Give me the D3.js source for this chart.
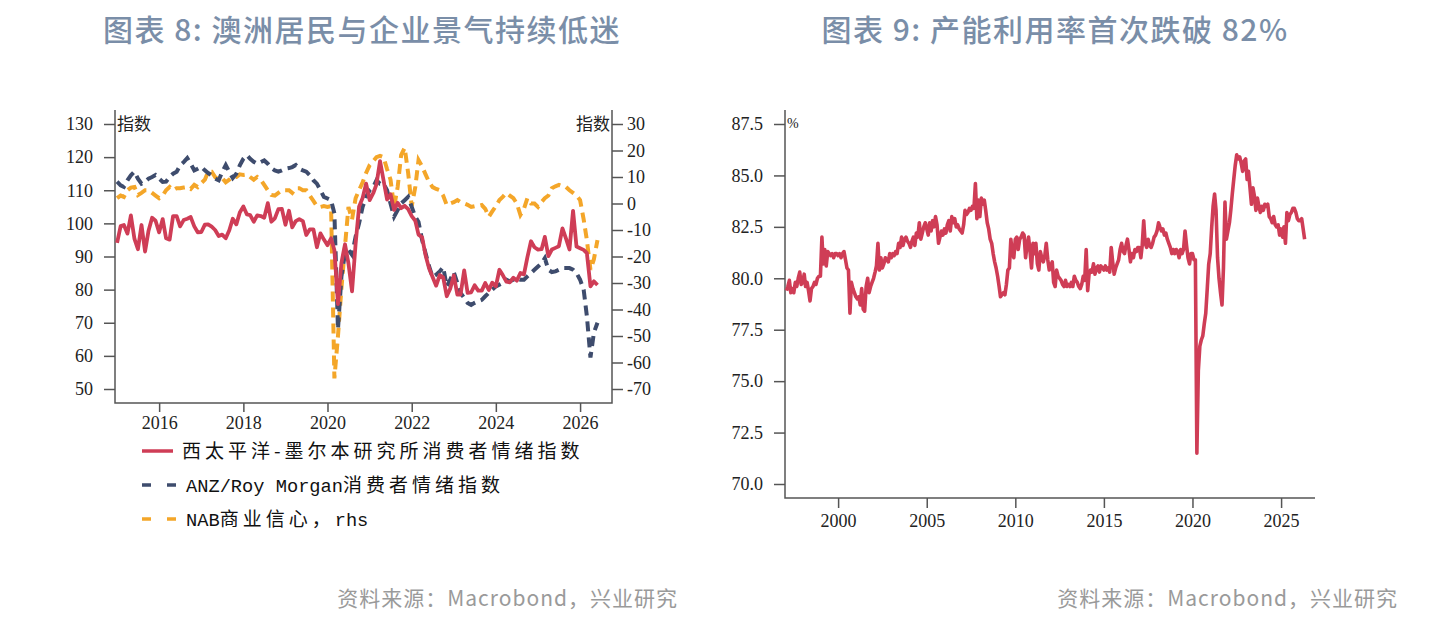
<!DOCTYPE html>
<html>
<head>
<meta charset="utf-8">
<script src="https://cdn.jsdelivr.net/npm/d3@7"></script>
<style>
  body { margin: 0; background: #fff; }
  svg { display: block; }
  .tick text { font-family: "Liberation Serif", serif; font-size: 18px; fill: #222; }
  .tick line { stroke: #555; stroke-width: 1.5; }
</style>
</head>
<body>
<svg id="chart" width="1440" height="630"></svg>
<script>
// ---- data: figure 8 (monthly, from Jan 2015) ----
var westpac = [
  94.1, 99.2, 99.5, 96.9, 102.4, 95.3, 92.2, 99.5, 91.5, 97.8, 101.7, 100.8,
  97.3, 101.3, 95.5, 95.1, 102.2, 102.2, 99.1, 101.0, 101.4, 101.9, 99.1, 97.3,
  97.4, 99.6, 99.7, 99.0, 98.0, 96.2, 96.6, 95.5, 97.9, 101.4, 99.7, 103.3,
  105.1, 102.7, 102.5, 100.5, 102.4, 102.2, 101.7, 106.1, 100.5, 101.5, 104.3, 104.4,
  99.6, 103.8, 98.8, 100.7, 101.3, 100.7, 96.5, 98.2, 98.2, 92.8, 97.0, 95.1,
  93.4, 95.5, 91.9, 75.6, 88.1, 93.7, 87.9, 79.5, 93.8, 105.0, 107.7, 112.0,
  107.0, 109.1, 111.8, 118.8, 113.1, 107.2, 108.8, 104.1, 106.2, 104.6, 105.3, 104.3,
  102.2, 100.8, 96.6, 95.8, 90.4, 86.4, 83.8, 81.2, 84.4, 83.7, 78.0, 80.3,
  84.3, 78.5, 78.5, 85.8, 79.0, 79.2, 81.3, 79.7, 79.7, 82.0, 79.9, 82.1,
  81.0, 86.0, 84.4, 82.4, 82.2, 83.6, 82.7, 85.0, 84.6, 89.8, 94.6, 92.8,
  92.1, 92.2, 95.9, 90.1, 92.1, 92.6, 93.1, 98.5, 95.4, 92.1, 103.8, 93.0,
  92.5, 92.0, 91.0, 81.0, 82.5, 81.4
];
var anz = [
  112.6, 111.5, 111.0, 113.0, 114.5, 115.6, 113.5, 112.0, 112.5, 113.5, 114.0, 114.6,
  113.5, 112.5, 112.6, 114.0, 115.0, 115.6, 117.5, 118.5, 119.7, 118.0, 116.0, 116.5,
  117.1, 116.0, 115.2, 114.5, 113.5, 113.0, 115.5, 117.6, 115.5, 113.7, 115.0, 117.5,
  119.5, 120.6, 119.5, 118.6, 118.0, 118.5, 119.0, 118.0, 116.7, 116.0, 115.6, 116.0,
  116.5, 116.7, 117.0, 117.6, 116.5, 116.0, 115.6, 114.5, 113.0, 112.0, 110.0, 108.0,
  107.5, 107.0, 103.0, 68.0, 84.0, 91.0, 92.0, 90.5, 96.0, 100.0, 105.0, 108.0,
  110.0, 111.0, 113.0, 112.0, 112.0, 110.0, 106.0, 102.0, 104.0, 106.0, 107.0, 108.0,
  105.0, 102.0, 100.4, 95.0, 91.0, 87.0, 83.8, 84.5, 85.5, 86.8, 81.0, 83.0,
  85.3, 82.0, 79.0, 77.5, 76.0, 75.4, 76.0, 76.5, 76.9, 78.0, 79.0, 80.0,
  81.0, 81.5, 82.0, 83.0, 82.5, 83.0, 83.5, 83.0, 83.0, 84.0, 85.0, 86.0,
  87.0, 88.0, 89.5, 86.0, 85.3, 85.5, 86.0, 86.5, 86.5, 86.5, 86.0, 85.0,
  83.0, 80.0, 72.0, 59.5, 67.0, 70.0
];
var nab = [
  2, 3, 2.5, 5, 6, 6.2, 3.2, 4, 5, 5, 4, 3,
  2, 3, 5, 6.2, 5, 5.8, 5.8, 6, 6.2, 5.5, 7, 6.2,
  7.7, 9, 12, 12, 10, 9, 9.6, 8, 9, 10, 10, 11,
  10.8, 11, 10, 9, 10, 9, 7, 5, 3.2, 3, 4, 5,
  5, 5, 4, 5.8, 5.8, 5, 5, 3, 1, -1, -1.3, -1,
  -1.3, -1, -66, -50, -32, -16, -1.3, -6, 2, 5, 8, 11.5,
  14.5, 16, 17.5, 18, 17.5, 13, 9, -1.3, 6.2, 18.3, 21, 11.5,
  -1, 6.2, 16.4, 14, 11, 8, 6.2, 5.5, 5, 3, -0.6, 0,
  0.5, 1.3, 0.5, 0, -0.5, -1.3, -1, -1, -0.6, -2, -5, -3,
  -1, 1.3, 2.5, 4, 3, 2, 0, -4.3, -2, 2, 0, 0,
  -1.3, 0.6, 2, 3, 5.8, 6.5, 7, 6.5, 6.2, 5, 4, 3,
  1.3, -6, -13.8, -25, -21, -13.8
];
var leftTicks = [50, 60, 70, 80, 90, 100, 110, 120, 130];
var rightTicks = [-70, -60, -50, -40, -30, -20, -10, 0, 10, 20, 30];
var legendNames = [
  [["cjk", "西太平洋-墨尔本研究所消费者情绪指数"]],
  [["lat", "ANZ/Roy Morgan"], ["cjk", "消费者情绪指数"]],
  [["lat", "NAB"], ["cjk", "商业信心，"], ["lat", "rhs"]]
];

// ---- data: figure 9 (monthly, from Feb 1997) ----
var capUtil = [
  79.4, 79.6, 79.9, 79.3, 79.5, 79.3, 79.8, 79.6, 80.0, 80.3, 79.7,          // 1997
  79.8, 80.2, 79.6, 79.8, 79.4, 78.9, 79.5, 79.6, 79.8, 79.7, 80.0, 80.1,    // 1998
  80.1, 82.0, 80.7, 81.4, 80.6, 81.3, 81.2, 81.1, 81.2, 81.0, 81.2, 81.2,    // 1999
  81.1, 81.2, 81.0, 81.2, 81.3, 80.9, 80.5, 80.4, 78.3, 79.8, 79.5, 79.3,    // 2000
  79.1, 79.0, 79.1, 78.7, 79.5, 78.5, 78.4, 79.6, 80.0, 79.3, 79.6, 79.8,    // 2001
  80.0, 80.3, 80.6, 81.7, 80.4, 81.0, 80.5, 80.7, 81.0, 80.9, 80.8, 81.2,    // 2002
  81.0, 81.2, 81.1, 81.3, 81.2, 81.7, 81.5, 82.0, 81.6, 81.9, 82.0, 81.8,    // 2003
  81.7, 81.5, 81.8, 82.0, 81.6, 82.2, 82.0, 82.7, 81.9, 82.2, 82.5, 82.7,    // 2004
  82.4, 82.1, 82.7, 82.3, 82.8, 82.5, 83.0, 82.6, 81.7, 82.0, 82.3, 82.1,    // 2005
  82.4, 82.2, 82.6, 82.8, 82.3, 83.0, 82.7, 82.9, 82.5, 82.6, 82.4, 82.3,    // 2006
  82.2, 82.6, 83.3, 83.1, 83.2, 83.4, 83.3, 83.5, 83.4, 84.6, 82.9, 83.8,    // 2007
  83.0, 83.9, 83.6, 83.8, 83.3, 82.7, 82.4, 81.9, 81.7, 81.2, 80.8, 80.5,    // 2008
  80.1, 79.6, 79.1, 79.2, 79.3, 79.2, 79.7, 80.4, 80.5, 81.9, 81.2, 81.0,    // 2009
  81.9, 82.0, 81.4, 81.9, 82.0, 82.2, 82.1, 81.0, 81.6, 82.0, 81.3, 80.5,    // 2010
  81.7, 81.2, 81.7, 80.7, 80.4, 81.3, 81.0, 80.8, 81.1, 81.7, 80.9, 80.4,    // 2011
  80.6, 80.8, 79.8, 79.6, 80.4, 80.1, 80.0, 79.9, 79.7, 79.6, 79.9, 79.6,    // 2012
  79.7, 79.6, 79.8, 79.6, 80.1, 79.9, 79.8, 79.6, 79.5, 79.7, 80.1, 79.9,    // 2013
  81.4, 79.4, 80.2, 80.4, 80.3, 80.7, 80.2, 80.5, 80.6, 80.3, 80.6, 80.5,    // 2014
  80.4, 80.6, 80.4, 80.5, 80.3, 81.5, 80.8, 80.2, 80.5, 80.7, 80.9, 81.4,    // 2015
  81.7, 81.3, 81.2, 81.6, 81.9, 81.4, 80.8, 81.2, 81.0, 81.4, 81.3, 81.5,    // 2016
  81.5, 81.0, 81.6, 82.8, 81.7, 81.5, 81.9, 81.6, 81.5, 81.7, 82.0, 82.1,    // 2017
  82.3, 82.7, 82.5, 82.3, 82.4, 82.1, 82.2, 81.9, 81.7, 81.5, 81.2, 81.4,    // 2018
  81.2, 81.4, 81.3, 81.0, 81.4, 81.2, 81.4, 82.3, 81.6, 81.0, 80.7, 81.2,    // 2019
  81.2, 80.9, 80.9, 71.5, 75.5, 76.7, 77.0, 77.2, 77.8, 78.3, 79.5, 80.7,    // 2020
  81.2, 82.5, 83.5, 84.1, 83.3, 81.0, 80.0, 79.3, 78.7, 80.5, 83.7, 81.9,    // 2021
  82.3, 82.7, 83.3, 84.1, 84.8, 85.5, 86.0, 85.8, 85.9, 85.6, 85.2, 85.7,    // 2022
  85.8, 84.8, 85.2, 84.4, 83.6, 84.4, 84.0, 83.3, 83.9, 83.5, 83.2, 83.5,    // 2023
  83.3, 83.6, 83.5, 83.6, 83.0, 82.9, 82.7, 83.0, 82.6, 82.5, 82.6, 82.1,    // 2024
  82.4, 82.0, 82.5, 81.7, 83.2, 82.8, 83.1, 83.2, 83.4, 83.4, 83.2, 82.9,    // 2025
  82.8, 82.8, 82.9, 82.4, 81.9                                               // 2026
];
var cuTicks = [70, 72.5, 75, 77.5, 80, 82.5, 85, 87.5];

var RED = "#cf3d56", NAVY = "#3e4c6d", ORANGE = "#f4a629", AXIS = "#555";

var svg = d3.select("#chart");

function monthDates(y0, m0, n) {
  return d3.range(n).map(function(i) { return new Date(y0, m0 + i, 1); });
}

// titles
svg.append("text").attr("x", 362).attr("y", 41).attr("text-anchor", "middle")
  .style("font-family", "'Noto Sans CJK SC', sans-serif").style("font-size", "30px")
  .style("font-weight", "500").style("letter-spacing", "1.5px").attr("fill", "#7a8ea8")
  .text("图表 8: 澳洲居民与企业景气持续低迷");
svg.append("text").attr("x", 1055).attr("y", 41).attr("text-anchor", "middle")
  .style("font-family", "'Noto Sans CJK SC', sans-serif").style("font-size", "30px")
  .style("font-weight", "500").style("letter-spacing", "1.5px").attr("fill", "#7a8ea8")
  .text("图表 9: 产能利用率首次跌破 82%");

// source notes
[678, 1398].forEach(function(x) {
  svg.append("text").attr("x", x).attr("y", 606).attr("text-anchor", "end")
    .style("font-family", "'Noto Sans CJK SC', sans-serif").style("font-size", "21px")
    .style("letter-spacing", "1px").attr("fill", "#9a9a9a")
    .text("资料来源：Macrobond，兴业研究");
});

// ================= left chart =================
var L = { left: 115, right: 612, top: 110, bottom: 403 };
var dates1 = monthDates(2015, 0, westpac.length);

var x1 = d3.scaleTime()
  .domain([new Date(2014, 11, 14), new Date(2026, 9, 5)])
  .range([L.left, L.right]);
var yL = d3.scaleLinear().domain([50, 130]).range([389, 124]);
var yR = d3.scaleLinear().domain([-70, 30]).range([389, 124]);

var g1 = svg.append("g");

g1.append("g").attr("transform", "translate(" + L.left + ",0)")
  .call(d3.axisLeft(yL).tickValues(leftTicks).tickSize(11).tickPadding(11))
  .call(function(g) { g.select(".domain").remove(); });
g1.append("g").attr("transform", "translate(" + L.right + ",0)")
  .call(d3.axisRight(yR).tickValues(rightTicks).tickSize(11).tickPadding(4)
    .tickFormat(function(d) { return String(d); }))
  .call(function(g) { g.select(".domain").remove(); });
g1.append("g").attr("transform", "translate(0," + L.bottom + ")")
  .call(d3.axisBottom(x1).ticks(d3.timeYear.every(2)).tickSize(9).tickPadding(4)
    .tickFormat(d3.timeFormat("%Y")))
  .call(function(g) { g.select(".domain").remove(); });

g1.append("path")
  .attr("d", "M" + L.left + "," + L.top + "V" + L.bottom + "H" + L.right + "V" + L.top)
  .attr("fill", "none").attr("stroke", AXIS).attr("stroke-width", 1.5);

g1.append("text").attr("x", L.left + 2).attr("y", 130)
  .style("font-family", "'Noto Sans CJK SC', sans-serif").style("font-size", "17px")
  .attr("fill", "#222").text("指数");
g1.append("text").attr("x", L.right - 2).attr("y", 130).attr("text-anchor", "end")
  .style("font-family", "'Noto Sans CJK SC', sans-serif").style("font-size", "17px")
  .attr("fill", "#222").text("指数");

var lineL = d3.line().x(function(d, i) { return x1(dates1[i]); }).y(function(d) { return yL(d); });
var lineR = d3.line().x(function(d, i) { return x1(dates1[i]); }).y(function(d) { return yR(d); });

g1.append("path").datum(nab).attr("d", lineR)
  .attr("fill", "none").attr("stroke", ORANGE).attr("stroke-width", 4)
  .attr("stroke-dasharray", "10,6");
g1.append("path").datum(anz).attr("d", lineL)
  .attr("fill", "none").attr("stroke", NAVY).attr("stroke-width", 4)
  .attr("stroke-dasharray", "10,6");
g1.append("path").datum(westpac).attr("d", lineL)
  .attr("fill", "none").attr("stroke", RED).attr("stroke-width", 3.8)
  .attr("stroke-linejoin", "round");

// legend
var legColors = [RED, NAVY, ORANGE];
var legDash = [null, "9,16", "9,16"];
legendNames.forEach(function(parts, i) {
  var y = 451 + i * 34;
  g1.append("line").attr("x1", 142).attr("x2", i === 0 ? 173 : 180)
    .attr("y1", y).attr("y2", y)
    .attr("stroke", legColors[i]).attr("stroke-width", 3.5)
    .attr("stroke-dasharray", legDash[i]);
  var t = g1.append("text").attr("x", i === 0 ? 182 : 186).attr("y", y + 7).attr("fill", "#111");
  parts.forEach(function(p) {
    var s = t.append("tspan").text(p[1]);
    if (p[0] === "cjk") {
      s.style("font-family", "'Noto Sans CJK SC', sans-serif").style("font-size", "19px")
        .style("letter-spacing", "4px");
    } else {
      s.style("font-family", "'Liberation Mono', monospace").style("font-size", "18.7px");
    }
  });
});

// ================= right chart =================
var R = { left: 785, right: 1315, top: 110, bottom: 498 };
var dates2 = monthDates(1997, 1, capUtil.length);

var x2 = d3.scaleTime()
  .domain([new Date(1997, 0, 1), new Date(2026, 11, 1)])
  .range([R.left, R.right]);
var y2 = d3.scaleLinear().domain([70, 87.5]).range([484, 124]);

var g2 = svg.append("g");
g2.append("g").attr("transform", "translate(" + R.left + ",0)")
  .call(d3.axisLeft(y2).tickValues(cuTicks).tickSize(11).tickPadding(11)
    .tickFormat(d3.format(".1f")))
  .call(function(g) { g.select(".domain").remove(); });
g2.append("g").attr("transform", "translate(0," + R.bottom + ")")
  .call(d3.axisBottom(x2).ticks(d3.timeYear.every(5)).tickSize(10).tickPadding(6)
    .tickFormat(d3.timeFormat("%Y")))
  .call(function(g) { g.select(".domain").remove(); });
g2.append("path")
  .attr("d", "M" + R.left + "," + R.top + "V" + R.bottom + "H" + R.right)
  .attr("fill", "none").attr("stroke", AXIS).attr("stroke-width", 1.5);

g2.append("text").attr("x", R.left + 2).attr("y", 128)
  .style("font-family", "'Liberation Serif', serif").style("font-size", "14px")
  .attr("fill", "#222").text("%");

g2.append("path").datum(capUtil)
  .attr("d", d3.line().x(function(d, i) { return x2(dates2[i]); }).y(function(d) { return y2(d); }))
  .attr("fill", "none").attr("stroke", RED).attr("stroke-width", 3.6)
  .attr("stroke-linejoin", "round");
</script>
</body>
</html>
